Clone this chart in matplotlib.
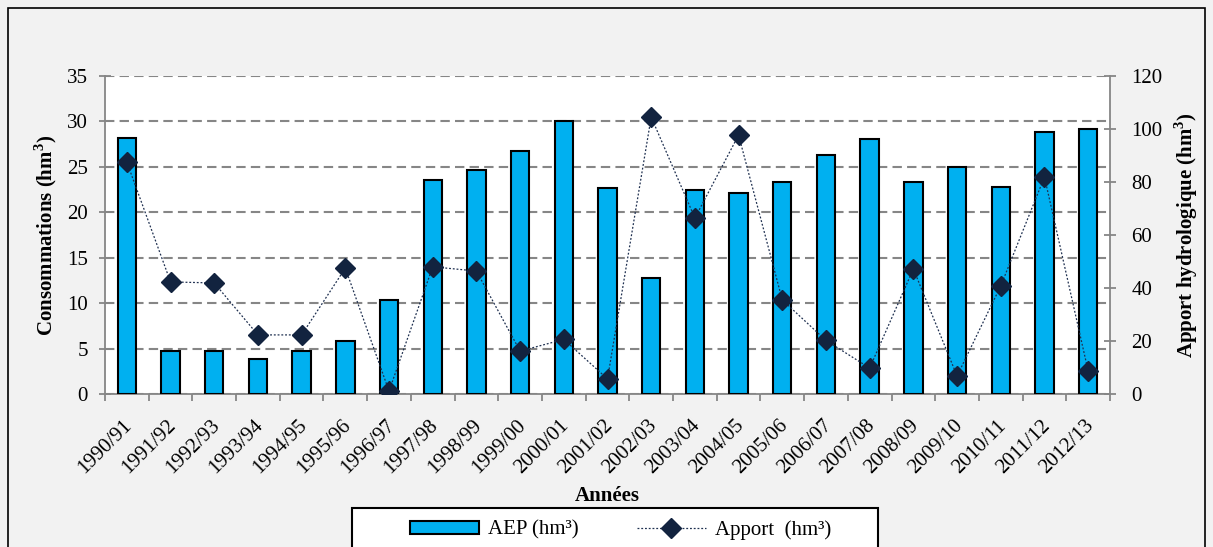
import matplotlib.pyplot as plt
from matplotlib.patches import Rectangle
from matplotlib.lines import Line2D
from matplotlib.ticker import MultipleLocator, FixedLocator
from matplotlib.transforms import ScaledTranslation
import numpy as np

plt.rcParams['font.family'] = ['Liberation Serif', 'DejaVu Serif']

years = ['1990/91', '1991/92', '1992/93', '1993/94', '1994/95', '1995/96', '1996/97',
         '1997/98', '1998/99', '1999/00', '2000/01', '2001/02', '2002/03', '2003/04',
         '2004/05', '2005/06', '2006/07', '2007/08', '2008/09', '2009/10', '2010/11',
         '2011/12', '2012/13']
aep = [28.2, 4.7, 4.7, 3.85, 4.7, 5.85, 10.35, 23.55, 24.7, 26.7, 30.1, 22.65,
       12.75, 22.5, 22.1, 23.3, 26.3, 28.1, 23.35, 25.0, 22.8, 28.8, 29.2]
apport = [87.5, 42.3, 41.9, 22.3, 22.3, 47.5, 1.1, 48.0, 46.4, 16.2, 20.6, 5.7,
          104.5, 66.4, 97.7, 35.5, 20.2, 9.8, 47.2, 6.8, 40.8, 81.9, 8.7]

FS = 15
bar_color = '#00b0f0'
line_color = '#1f3050'
mark_color = '#12233f'
axis_gray = '#868686'

px = 1 / 100
fig = plt.figure(figsize=(1213 * px, 547 * px), dpi=100)
fig.patch.set_facecolor('#f2f2f2')

# outer frame of the chart
fig.patches.append(Rectangle((8 / 1213, -0.1), 1197 / 1213, 1.1 - 8 / 547,
                             transform=fig.transFigure, fill=False,
                             edgecolor='black', linewidth=1.2))

ax = fig.add_axes([105 / 1213, 1 - 394 / 547, 1005 / 1213, 318 / 547])
ax.set_facecolor('white')
x = np.arange(len(years))

ax.bar(x, aep, width=0.42, color=bar_color, edgecolor='black', linewidth=1.5, zorder=3)
ax.set_xlim(-0.5, len(years) - 0.5)
ax.set_ylim(0, 35)
ax.yaxis.set_major_locator(MultipleLocator(5))
ax.grid(axis='y', color=axis_gray, linestyle=(0, (4.5, 2.5)), linewidth=1.5, zorder=0)
ax.set_axisbelow(True)

for s in ['top', 'right']:
    ax.spines[s].set_visible(False)
for s in ['left', 'bottom']:
    ax.spines[s].set_color(axis_gray)
    ax.spines[s].set_linewidth(1.3)

ax.set_xticks(x)
ax.set_xticklabels(years, rotation=45, ha='right', va='top', rotation_mode='anchor', fontsize=FS)
ax.tick_params(axis='x', length=0, pad=16)
shift = ScaledTranslation(-4 / 100, 0, fig.dpi_scale_trans)
for lab in ax.get_xticklabels():
    lab.set_transform(lab.get_transform() + shift)
ax.xaxis.set_minor_locator(FixedLocator(np.arange(-0.5, len(years), 1)))
ax.tick_params(axis='x', which='minor', length=5, color=axis_gray, width=1.3)
ax.tick_params(axis='y', direction='inout', length=8.5, color=axis_gray, width=1.3,
               labelsize=FS, pad=8)
ax.set_ylabel('Consommations (hm$^{\\mathregular{3}}$)', fontsize=FS, fontweight='bold', labelpad=6)
ax.set_xlabel('Années', fontsize=FS, fontweight='bold', labelpad=6)

ax2 = ax.twinx()
ax2.plot(x, apport, color=line_color, linestyle=(0, (1.5, 1.5)), linewidth=0.9,
         marker='D', markersize=10, markerfacecolor=mark_color, markeredgecolor=mark_color, zorder=4)
ax2.set_ylim(0, 120)
ax2.yaxis.set_major_locator(MultipleLocator(20))
for s in ['top', 'left', 'bottom']:
    ax2.spines[s].set_visible(False)
ax2.spines['right'].set_color(axis_gray)
ax2.spines['right'].set_linewidth(1.3)
ax2.tick_params(axis='y', direction='inout', length=8.5, color=axis_gray, width=1.3,
                labelsize=FS, pad=11)
ax2.set_ylabel('Apport hydrologique (hm$^{\\mathregular{3}}$)', fontsize=FS, fontweight='bold', labelpad=7)

# legend box
fig.patches.append(Rectangle((352 / 1213, -0.1), 526 / 1213, 0.1 + 1 - 508 / 547,
                             transform=fig.transFigure, facecolor='white',
                             edgecolor='black', linewidth=1.5))
handles = [Rectangle((0, 0), 1, 1, facecolor=bar_color, edgecolor='black', linewidth=1.5),
           Line2D([], [], color=line_color, linestyle=(0, (1.5, 1.5)), linewidth=0.9,
                  marker='D', markersize=10, markerfacecolor=mark_color, markeredgecolor=mark_color)]
leg = fig.legend(handles, ['AEP (hm³)', 'Apport  (hm³)'], ncol=2, fontsize=FS,
                 loc='center left', bbox_to_anchor=(410 / 1213, 1 - 530 / 547),
                 frameon=False, borderpad=0, borderaxespad=0,
                 handlelength=3.3, handleheight=0.6, handletextpad=0.45, columnspacing=2.8)

fig.savefig('out.png', dpi=100, facecolor=fig.get_facecolor())
